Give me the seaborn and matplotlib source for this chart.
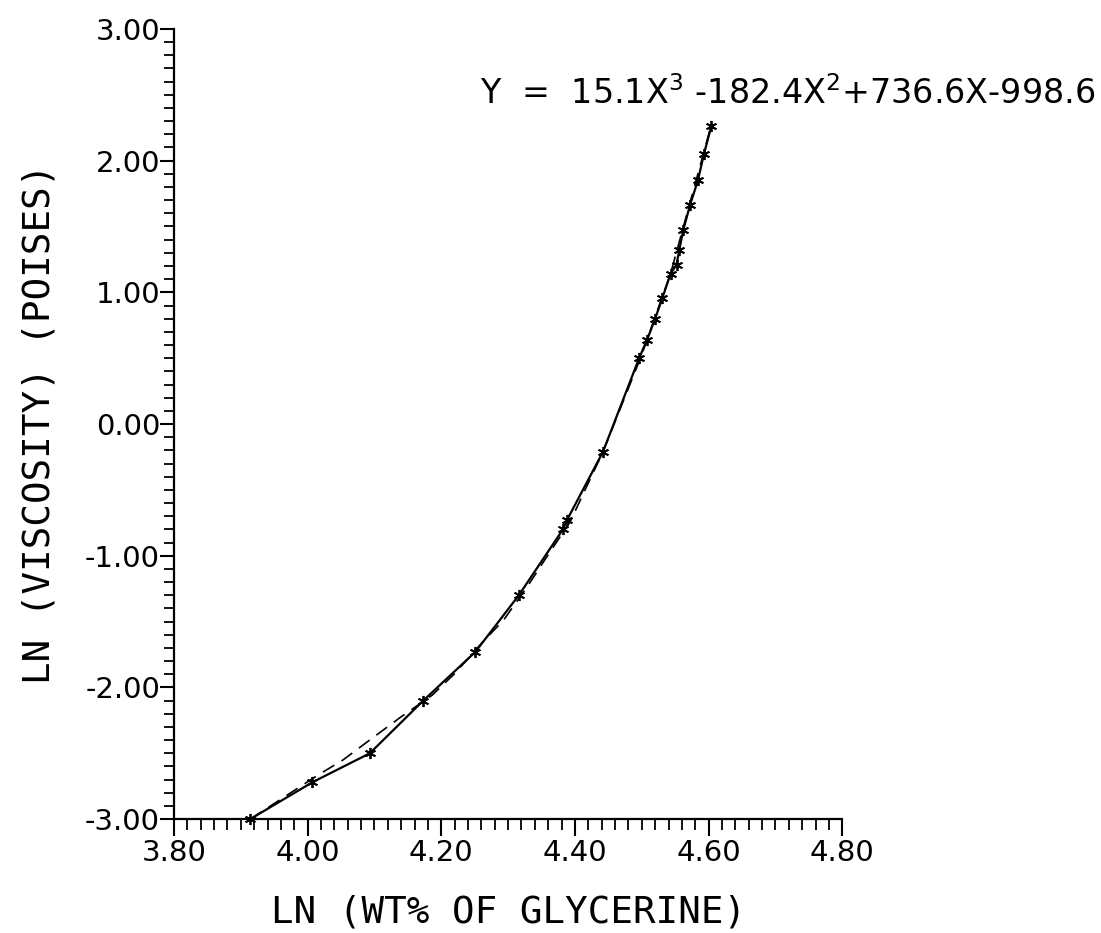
import numpy as np
import pandas as pd
import seaborn as sns
import matplotlib.pyplot as plt
from matplotlib.ticker import MultipleLocator

ln_wt = [3.914, 4.007, 4.093, 4.173, 4.251, 4.316, 4.382, 4.388, 4.442,
         4.496, 4.508, 4.520, 4.531, 4.543, 4.552, 4.556, 4.562, 4.572,
         4.584, 4.593, 4.604]
ln_visc = [-3.00, -2.72, -2.50, -2.10, -1.73, -1.30, -0.80, -0.73, -0.21,
           0.50, 0.64, 0.80, 0.96, 1.14, 1.21, 1.32, 1.47, 1.66,
           1.85, 2.05, 2.26]

# fitted curve
fit_x = [3.914, 4.014, 4.053, 4.098, 4.138, 4.186, 4.221, 4.261, 4.293,
         4.328, 4.355, 4.393, 4.442, 4.498, 4.543, 4.604]
fit_y = [-3.00, -2.67, -2.55, -2.38, -2.23, -2.06, -1.89, -1.66, -1.49,
         -1.24, -1.03, -0.74, -0.21, 0.50, 1.14, 2.27]

equation = r"Y  =  15.1X$^{3}$ -182.4X$^{2}$+736.6X-998.6"

df = pd.DataFrame({"x": ln_wt, "y": ln_visc})
fit = pd.DataFrame({"x": fit_x, "y": fit_y})

sns.set_style("ticks")
plt.rcParams["font.family"] = ["DejaVu Sans"]
plt.rcParams["text.color"] = "black"
plt.rcParams["axes.labelcolor"] = "black"

fig = plt.figure(figsize=(11.01, 9.33), dpi=100)
ax = fig.add_axes([0.158, 0.122, 0.607, 0.847])

sns.lineplot(data=fit, x="x", y="y", sort=False, estimator=None, ax=ax,
             color="black", linewidth=1.2, linestyle=(0, (8, 5)), clip_on=False)
sns.lineplot(data=df, x="x", y="y", sort=False, estimator=None, ax=ax,
             color="black", linewidth=1.6, marker=(6, 2, 0), markersize=8,
             markeredgewidth=1.3, markeredgecolor="black", clip_on=False)

ax.set_xlim(3.8, 4.8)
ax.set_ylim(-3.0, 3.0)
ax.xaxis.set_major_locator(MultipleLocator(0.2))
ax.xaxis.set_minor_locator(MultipleLocator(0.02))
ax.yaxis.set_major_locator(MultipleLocator(1.0))
ax.yaxis.set_minor_locator(MultipleLocator(0.1))
ax.xaxis.set_major_formatter(lambda v, p: f"{v:.2f}")
ax.yaxis.set_major_formatter(lambda v, p: f"{v:.2f}")

for s in ["top", "right"]:
    ax.spines[s].set_visible(False)
for s in ["left", "bottom"]:
    ax.spines[s].set_linewidth(1.6)
    ax.spines[s].set_color("black")

ax.tick_params(which="major", direction="out", length=12, width=1.5,
               labelsize=21, colors="black", pad=2)
ax.tick_params(which="minor", direction="out", length=8, width=1.3, colors="black")
ax.tick_params(axis="y", which="major", length=10, pad=0)
ax.tick_params(axis="y", which="minor", length=7)

label_font = {"family": "DejaVu Sans Mono", "size": 27, "weight": "light"}
ax.set_xlabel("LN (WT% OF GLYCERINE)", fontdict=label_font, labelpad=20)
ax.set_ylabel("LN (VISCOSITY) (POISES)", fontdict=label_font, labelpad=20)

fig.text(0.995, 0.900, equation, ha="right", va="center", fontsize=24)

fig.savefig("out.png", dpi=100, facecolor="white")
